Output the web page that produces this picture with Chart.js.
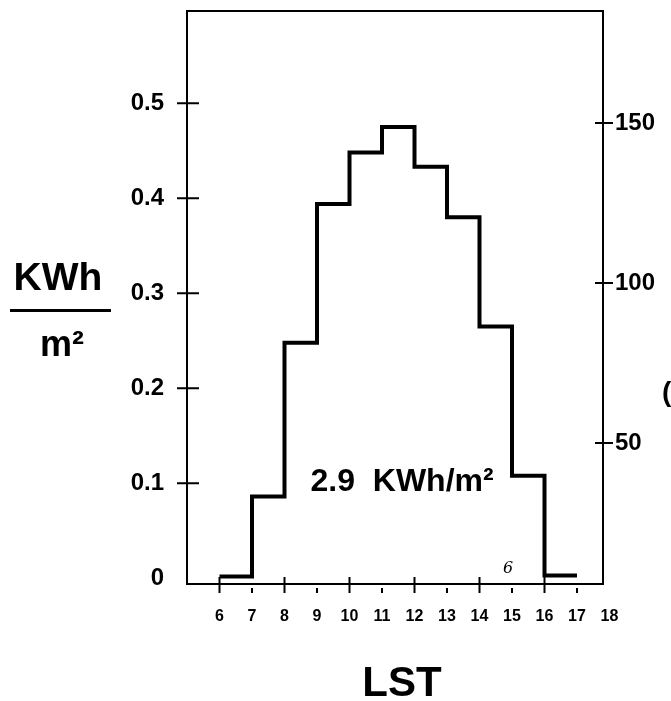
<!DOCTYPE html>
<html>
<head>
<meta charset="utf-8">
<script src="https://cdn.jsdelivr.net/npm/chart.js@4"></script>
<style>
html, body { margin: 0; padding: 0; background: #fff; }
#wrap { width: 671px; height: 701px; }
</style>
</head>
<body>
<div id="wrap"><canvas id="grafica" width="671" height="701"></canvas></div>
<script>
// Datos (hora solar local -> energía por hora)
const horas = [6, 7, 8, 9, 10, 11, 12, 13, 14, 15, 16, 17];
const energia = [0.002, 0.086, 0.248, 0.394, 0.448, 0.475, 0.433, 0.380, 0.265, 0.108, 0.003];
const ticksX = [6, 7, 8, 9, 10, 11, 12, 13, 14, 15, 16, 17, 18];
const ticksIzq = [0, 0.1, 0.2, 0.3, 0.4, 0.5];
const etiquetasIzq = ["0", "0.1", "0.2", "0.3", "0.4", "0.5"];
const ticksDer = [50, 100, 150];
const tituloX = "LST";
const unidadArriba = "KWh";
const unidadAbajo = "m²";
const totalDia = "2.9  KWh/m²";

const ctx = document.getElementById("grafica");
const FUENTE = "'Liberation Sans', Arial, sans-serif";

// Puntos del escalón: cada hora empieza su tramo, el último se cierra en la hora final
const puntos = energia.map((v, i) => ({ x: horas[i], y: v }));
puntos.push({ x: horas[horas.length - 1], y: energia[energia.length - 1] });

// sin relleno extra de las etiquetas, el marco queda donde se fija
function sinRelleno(s) {
    s.paddingTop = 0; s.paddingBottom = 0;
    s.paddingLeft = 0; s.paddingRight = 0;
}

// Marcas que cruzan los ejes y textos sueltos
const extras = {
    id: "extras",
    afterDraw(chart) {
        const c = chart.ctx;
        const a = chart.chartArea;
        const sx = chart.scales.x, sy = chart.scales.y, sy2 = chart.scales.y2;
        c.save();
        c.strokeStyle = "#000";
        c.lineWidth = 2;
        c.beginPath();
        ticksIzq.forEach(v => {
            if (v === 0) return;
            const y = sy.getPixelForValue(v);
            c.moveTo(a.left - 10, y); c.lineTo(a.left + 12, y);
        });
        ticksDer.forEach(v => {
            const y = sy2.getPixelForValue(v);
            c.moveTo(a.right - 8, y); c.lineTo(a.right + 10, y);
        });
        ticksX.forEach(v => {
            if (v > sx.max) return;
            const x = sx.getPixelForValue(v);
            if (v % 2 === 0) { c.moveTo(x, a.bottom - 7); c.lineTo(x, a.bottom + 9); }
            else { c.moveTo(x, a.bottom + 4); c.lineTo(x, a.bottom + 9); }
        });
        c.stroke();

        c.fillStyle = "#000";
        c.textAlign = "center";
        c.textBaseline = "alphabetic";
        // unidades del eje izquierdo
        c.font = "bold 39px " + FUENTE;
        c.fillText(unidadArriba, 58, 290);
        c.fillRect(10, 309, 101, 3);
        c.font = "bold 36px " + FUENTE;
        c.fillText(unidadAbajo, 62, 356);
        // título del eje x
        c.font = "bold 42px " + FUENTE;
        c.fillText(tituloX, 402, 696);
        // total diario
        c.font = "bold 32px " + FUENTE;
        c.textAlign = "left";
        c.fillText(totalDia, sx.getPixelForValue(8.8), sy.getPixelForValue(0.092));
        // anotación a mano y paréntesis cortado
        c.font = "italic 16px 'DejaVu Serif', serif";
        c.fillText("6", 503, 573);
        c.font = "bold 28px " + FUENTE;
        c.fillText("(", 662, 401);
        c.restore();
    }
};

const chart = new Chart(ctx, {
    type: "line",
    data: {
        datasets: [{
            data: puntos,
            stepped: true,
            borderColor: "#000",
            borderWidth: 4,
            pointRadius: 0,
            fill: false,
            xAxisID: "x",
            yAxisID: "y"
        }]
    },
    plugins: [extras],
    options: {
        responsive: false,
        animation: false,
        devicePixelRatio: 1,
        layout: { padding: { top: 11, left: 0, right: 0, bottom: 0 } },
        plugins: { legend: { display: false }, tooltip: { enabled: false } },
        scales: {
            x: {
                type: "linear",
                position: "bottom",
                min: 5.0,
                max: 17.8,
                grid: { display: false, drawTicks: false },
                border: { display: true, color: "#000", width: 2 },
                ticks: { color: "#000", font: { family: FUENTE, size: 16, weight: "bold" }, padding: 23, autoSkip: false, maxRotation: 0 },
                afterBuildTicks: s => { s.ticks = ticksX.map(v => ({ value: v })); },
                afterFit: s => { s.height = 117; sinRelleno(s); }
            },
            arriba: {
                type: "linear",
                position: "top",
                min: 5.0,
                max: 17.8,
                grid: { display: false, drawTicks: false },
                border: { display: true, color: "#000", width: 2 },
                ticks: { display: false },
                afterFit: s => { s.height = 0; sinRelleno(s); }
            },
            y: {
                position: "left",
                min: -0.006,
                max: 0.597,
                grid: { display: false, drawTicks: false },
                border: { display: true, color: "#000", width: 2 },
                ticks: {
                    color: "#000",
                    font: { family: FUENTE, size: 24, weight: "bold" },
                    padding: 23,
                    autoSkip: false,
                    callback: (v) => etiquetasIzq[ticksIzq.indexOf(v)]
                },
                afterBuildTicks: s => { s.ticks = ticksIzq.map(v => ({ value: v })); },
                afterFit: s => { s.width = 187; sinRelleno(s); }
            },
            y2: {
                position: "right",
                min: 5.9,
                max: 185,
                grid: { display: false, drawTicks: false },
                border: { display: true, color: "#000", width: 2 },
                ticks: { color: "#000", font: { family: FUENTE, size: 24, weight: "bold" }, padding: 12, autoSkip: false },
                afterBuildTicks: s => { s.ticks = ticksDer.map(v => ({ value: v })); },
                afterFit: s => { s.width = 68; sinRelleno(s); }
            }
        }
    }
});
</script>
</body>
</html>
